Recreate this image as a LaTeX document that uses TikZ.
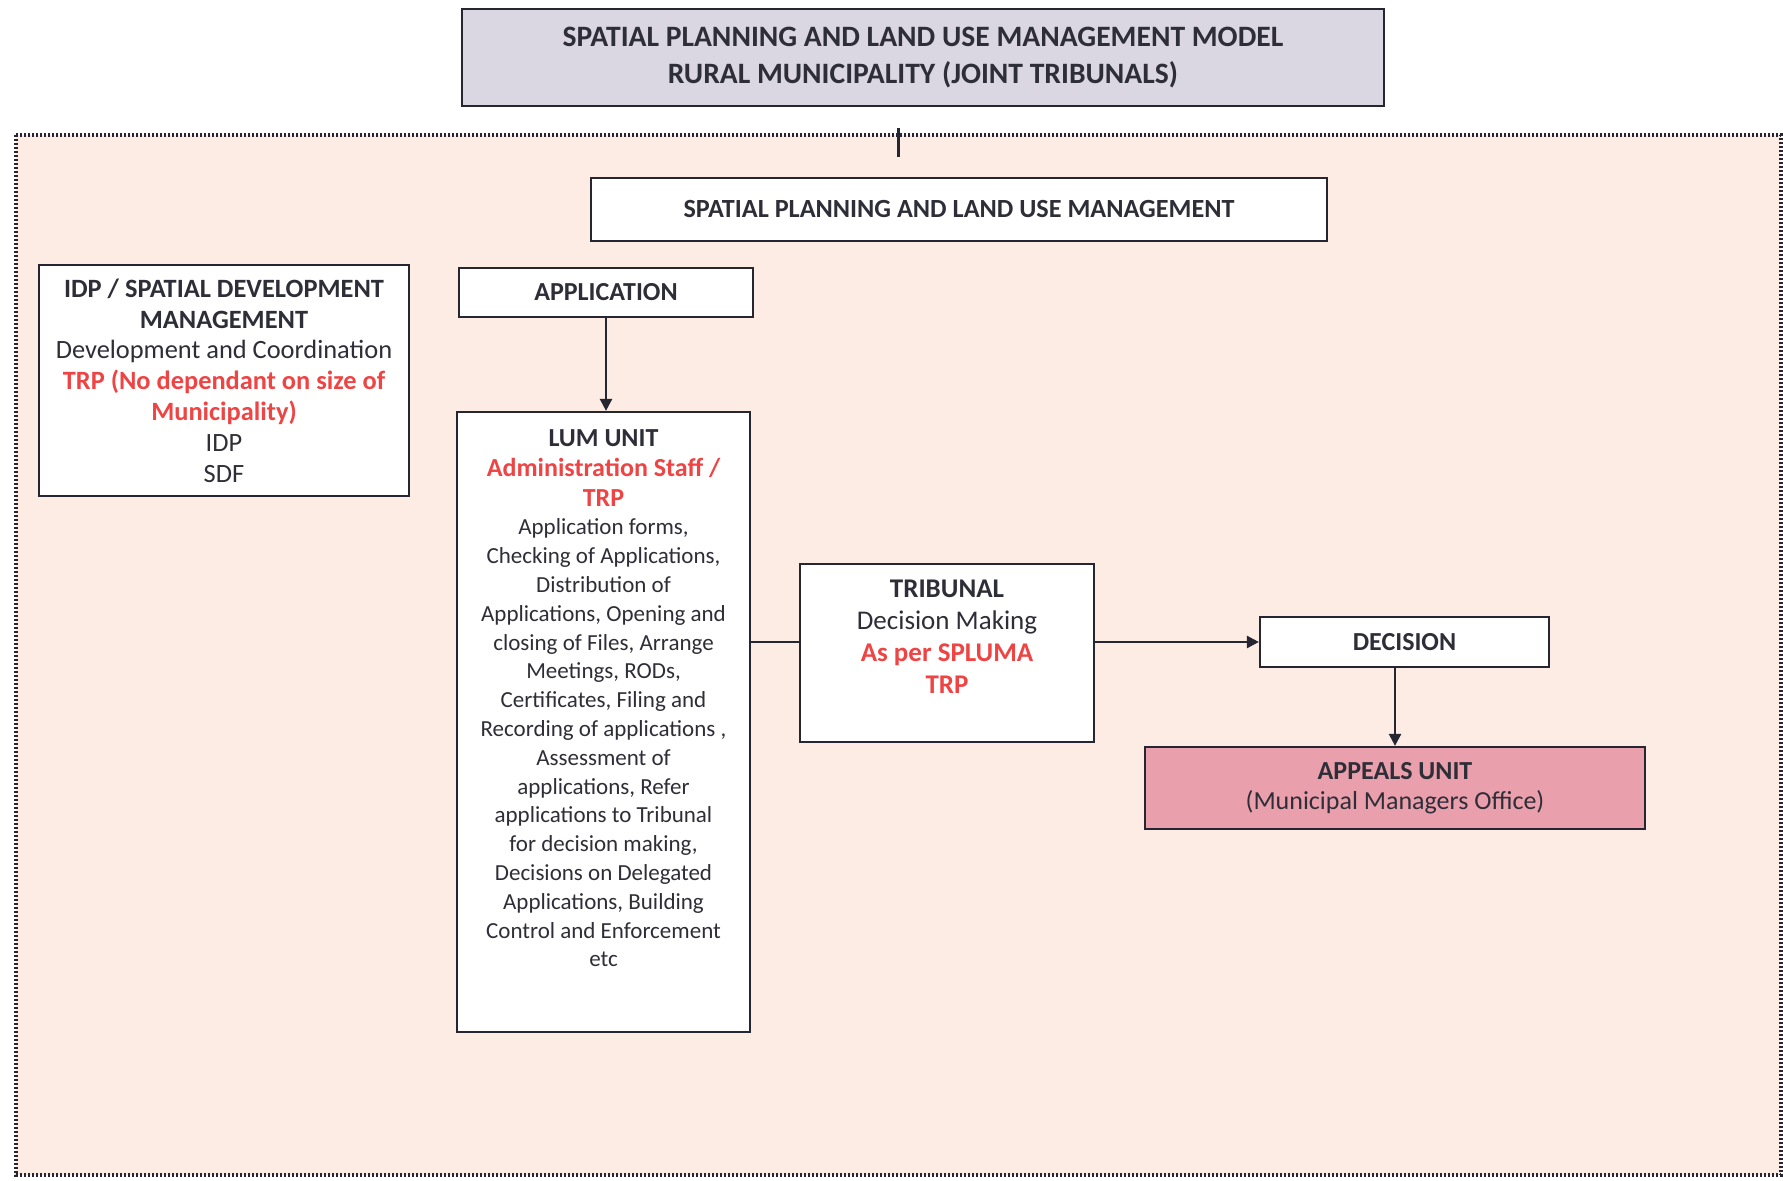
\documentclass[tikz,border=0pt]{standalone}
\usepackage{fontspec}
\setmainfont{Carlito}
\usetikzlibrary{arrows.meta}
\newlength{\du}
\setlength{\du}{0.5pt}
\definecolor{titlefill}{rgb}{0.855,0.839,0.886}
\definecolor{appealfill}{rgb}{0.918,0.627,0.675}
\definecolor{framefill}{rgb}{0.988,0.925,0.894}
\definecolor{trpred}{rgb}{0.933,0.267,0.267}
\definecolor{edgecolor}{rgb}{0.150000, 0.150000, 0.200000}
\definecolor{inkgray}{rgb}{0.180000, 0.180000, 0.220000}
\tikzset{
  unitbox/.style={draw=edgecolor, line width=1.1pt, fill=white, text=inkgray, inner sep=2pt, align=center},
  link/.style={draw=edgecolor, line width=1.2pt},
  linkarrow/.style={link, -{Triangle[length=6pt,width=6pt]}},
  framebox/.style={draw=edgecolor, line width=2pt, dash pattern=on 1.1pt off 0.9pt, fill=framefill}
}

\begin{document}
\begin{tikzpicture}
\pgftransformxscale{1.000000}
\pgftransformyscale{-1.000000}
\useasboundingbox (0\du,0\du) rectangle (1783\du,1181\du);
\fill[white] (0\du,0\du) rectangle (1783\du,1181\du);
% dotted frame round the municipality
\draw[framebox] (16\du,135\du) rectangle (1781\du,1175\du);
\coordinate (ticktop) at (898\du,128\du);
\coordinate (tickfoot) at (898\du,157\du);
\draw[link, line width=1.5pt] (ticktop) -- (tickfoot);
% title
\node[unitbox, fill=titlefill, minimum width=922\du, minimum height=97\du, font=\fontsize{14.8}{18.8}\selectfont\bfseries] (model) at (923\du,57.5\du){SPATIAL PLANNING AND LAND USE MANAGEMENT MODEL\\RURAL MUNICIPALITY (JOINT TRIBUNALS)};
\node[unitbox, minimum width=736\du, minimum height=63\du, font=\fontsize{13.1}{15}\selectfont\bfseries] (splum) at (959\du,209.5\du){SPATIAL PLANNING AND LAND USE MANAGEMENT};
% left column
\node[unitbox, minimum width=370\du, minimum height=231\du, font=\fontsize{13.2}{15.4}\selectfont] (idp) at (224\du,380.5\du){\textbf{IDP / SPATIAL DEVELOPMENT}\\\textbf{MANAGEMENT}\\Development and Coordination\\\textcolor{trpred}{\textbf{TRP (No dependant on size of}}\\\textcolor{trpred}{\textbf{Municipality)}}\\IDP\\SDF};
\node[unitbox, minimum width=294\du, minimum height=49\du, font=\fontsize{13}{15}\selectfont\bfseries] (app) at (606\du,292.5\du){APPLICATION};
\node[unitbox, minimum width=293\du, minimum height=620\du] (lum) at (603.5\du,722\du){\parbox[t][306pt][t]{142pt}{\centering\vspace*{7pt}%
{\fontsize{13}{14.8}\selectfont\bfseries LUM UNIT\\\color{trpred}Administration Staff /\\TRP\par}%
{\fontsize{11.5}{14.4}\selectfont Application forms,\\Checking of Applications,\\Distribution of\\Applications, Opening and\\closing of Files, Arrange\\Meetings, RODs,\\Certificates, Filing and\\Recording of applications ,\\Assessment of\\applications, Refer\\applications to Tribunal\\for decision making,\\Decisions on Delegated\\Applications, Building\\Control and Enforcement\\etc\par}}};
% decision chain
\node[unitbox, minimum width=294\du, minimum height=178\du] (tri) at (947\du,653\du){\parbox[t][85pt][t]{143pt}{\centering\vspace*{6pt}%
\fontsize{13.5}{16}\selectfont{\bfseries TRIBUNAL}\\Decision Making\\{\color{trpred}\bfseries As per SPLUMA\\TRP}\par}};
\node[unitbox, minimum width=289\du, minimum height=50\du, font=\fontsize{13}{15}\selectfont\bfseries] (dec) at (1404.5\du,642\du){DECISION};
\node[unitbox, fill=appealfill, minimum width=500\du, minimum height=82\du, font=\fontsize{13}{14.8}\selectfont] (appeal) at (1395\du,788\du){\textbf{APPEALS UNIT}\\(Municipal Managers Office)};
% connectors
\draw[linkarrow] (app.south) -- (app.south |- lum.north);
\draw[link] (lum.east |- dec.west) -- (tri.west |- dec.west);
\draw[linkarrow] (tri.east |- dec.west) -- (dec.west);
\draw[linkarrow] (dec.south -| appeal.north) -- (appeal.north);
\end{tikzpicture}
\end{document}
